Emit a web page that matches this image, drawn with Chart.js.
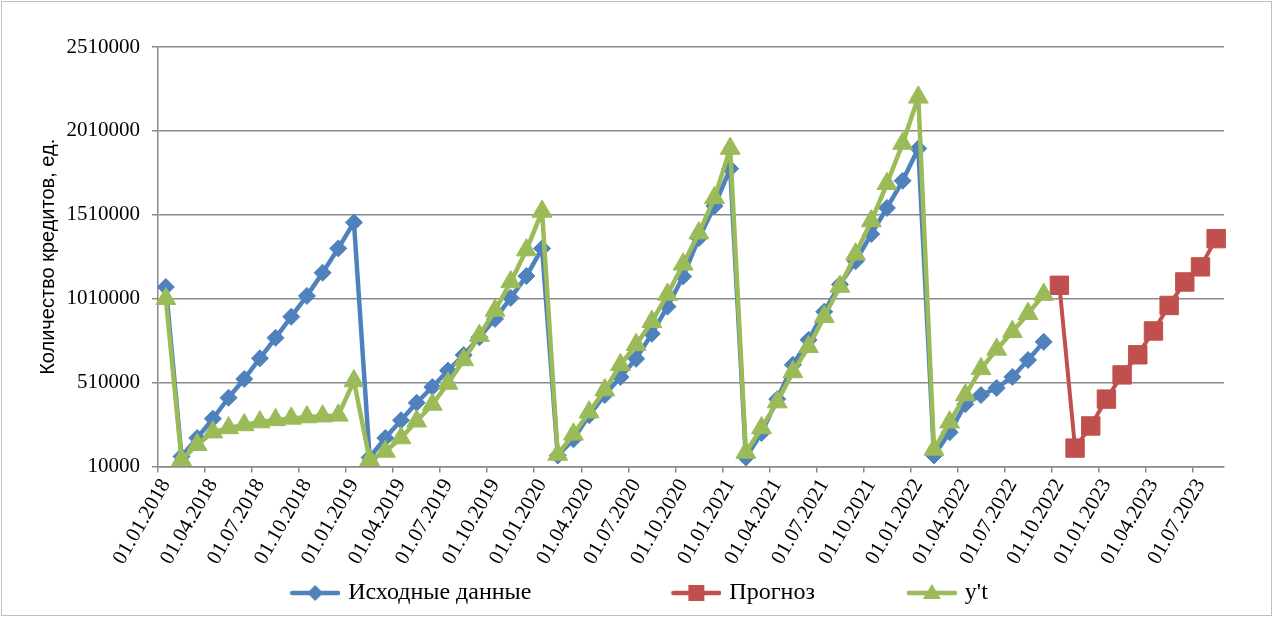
<!DOCTYPE html>
<html lang="ru">
<head>
<meta charset="utf-8">
<title>Количество кредитов</title>
<script src="https://cdn.jsdelivr.net/npm/chart.js@4.4.1/dist/chart.umd.min.js"></script>
<style>
  html, body { margin: 0; padding: 0; background: #fff; }
  #wrap { position: relative; width: 1273px; height: 617px; }
</style>
</head>
<body>
<div id="wrap"><canvas id="chart"></canvas></div>
<script>
// месяцы: 01.01.2018 ... 01.08.2023
const months = [
  '01.01.2018', '01.02.2018', '01.03.2018', '01.04.2018', '01.05.2018', '01.06.2018',
  '01.07.2018', '01.08.2018', '01.09.2018', '01.10.2018', '01.11.2018', '01.12.2018',
  '01.01.2019', '01.02.2019', '01.03.2019', '01.04.2019', '01.05.2019', '01.06.2019',
  '01.07.2019', '01.08.2019', '01.09.2019', '01.10.2019', '01.11.2019', '01.12.2019',
  '01.01.2020', '01.02.2020', '01.03.2020', '01.04.2020', '01.05.2020', '01.06.2020',
  '01.07.2020', '01.08.2020', '01.09.2020', '01.10.2020', '01.11.2020', '01.12.2020',
  '01.01.2021', '01.02.2021', '01.03.2021', '01.04.2021', '01.05.2021', '01.06.2021',
  '01.07.2021', '01.08.2021', '01.09.2021', '01.10.2021', '01.11.2021', '01.12.2021',
  '01.01.2022', '01.02.2022', '01.03.2022', '01.04.2022', '01.05.2022', '01.06.2022',
  '01.07.2022', '01.08.2022', '01.09.2022', '01.10.2022', '01.11.2022', '01.12.2022',
  '01.01.2023', '01.02.2023', '01.03.2023', '01.04.2023', '01.05.2023', '01.06.2023',
  '01.07.2023', '01.08.2023',
];

// Исходные данные (01.2018 - 09.2022)
const source = [
  1080000, 70000, 180000, 295000, 420000, 532000, 655000, 777000, 903000, 1027000, 1165000, 1310000,
  1465000, 64000, 180000, 286000, 390000, 484000, 582000, 675000, 780000, 890000, 1015000, 1145000,
  1310000, 76000, 172000, 316000, 436000, 544000, 652000, 801000, 963000, 1143000, 1371000, 1563000,
  1785000, 64000, 210000, 412000, 616000, 765000, 933000, 1095000, 1233000, 1395000, 1551000, 1713000,
  1905000, 76000, 214000, 382000, 436000, 478000, 544000, 645000, 753000,
  null, null, null, null, null, null, null, null, null, null, null,
];

// Прогноз (10.2022 - 08.2023)
const forecast = [
  null, null, null, null, null, null, null, null, null, null, null, null,
  null, null, null, null, null, null, null, null, null, null, null, null,
  null, null, null, null, null, null, null, null, null, null, null, null,
  null, null, null, null, null, null, null, null, null, null, null, null,
  null, null, null, null, null, null, null, null, null,
  1090000, 120000, 252000, 412000, 556000, 676000, 818000, 970000, 1110000, 1200000, 1368000,
];

// y't
const fitted = [
  1010000, 50000, 140000, 215000, 240000, 258000, 275000, 288000, 297000, 305000, 310000, 315000,
  520000, 50000, 100000, 180000, 280000, 380000, 505000, 645000, 790000, 940000, 1110000, 1300000,
  1530000, 82000, 202000, 334000, 466000, 616000, 736000, 873000, 1035000, 1215000, 1401000, 1611000,
  1905000, 94000, 240000, 394000, 574000, 723000, 903000, 1083000, 1275000, 1473000, 1695000, 1935000,
  2210000, 112000, 274000, 436000, 592000, 708000, 813000, 921000, 1035000,
  null, null, null, null, null, null, null, null, null, null, null,
];

const yTicks = [10000, 510000, 1010000, 1510000, 2010000, 2510000];

const BLUE = '#4f81bd';
const RED = '#c0504d';
const GREEN = '#9bbb59';
const GRID = '#898989';
const SERIF = 'Liberation Serif, "Times New Roman", serif';
const SANS = 'Liberation Sans, Arial, sans-serif';

// образец линии с маркером для легенды (картинка шире рамки на 8px, линия прижата вправо)
function makeSwatch(color, marker) {
  const c = document.createElement('canvas');
  c.width = 58;
  c.height = 24;
  const g = c.getContext('2d');
  const cx = 33, cy = 12;
  g.strokeStyle = color;
  g.lineWidth = 4.5;
  g.lineCap = 'round';
  g.beginPath();
  g.moveTo(10, cy);
  g.lineTo(56, cy);
  g.stroke();
  g.fillStyle = color;
  g.beginPath();
  if (marker === 'diamond') {
    g.moveTo(cx, cy - 8); g.lineTo(cx + 8, cy); g.lineTo(cx, cy + 8); g.lineTo(cx - 8, cy);
  } else if (marker === 'square') {
    g.rect(cx - 8, cy - 8, 16, 16);
  } else {
    g.moveTo(cx, cy - 9); g.lineTo(cx + 9, cy + 6); g.lineTo(cx - 9, cy + 6);
  }
  g.closePath();
  g.fill();
  return c;
}

const swatches = [makeSwatch(BLUE, 'diamond'), makeSwatch(RED, 'square'), makeSwatch(GREEN, 'triangle')];
const legendGap = [' '.repeat(21), ' '.repeat(13), ''];

const frame = {
  id: 'frame',
  afterLayout(chart) {
    // легенда в Excel чуть смещена вправо от центра
    chart.legend.left += 9;
    chart.legend.right += 9;
  },
  afterDraw(chart) {
    const { ctx, width, height } = chart;
    ctx.save();
    ctx.strokeStyle = '#bfbfbf';
    ctx.lineWidth = 1;
    ctx.strokeRect(1.5, 1.5, width - 3, height - 3);
    ctx.restore();
  },
};

new Chart(document.getElementById('chart'), {
  type: 'line',
  data: {
    labels: months,
    datasets: [
      {
        label: 'Исходные данные',
        data: source,
        borderColor: BLUE,
        backgroundColor: BLUE,
        borderWidth: 4.5,
        pointStyle: 'rectRot',
        pointRadius: 8.5,
        pointBorderWidth: 1,
        order: 2,
      },
      {
        label: 'Прогноз',
        data: forecast,
        borderColor: RED,
        backgroundColor: RED,
        borderWidth: 4,
        pointStyle: 'rect',
        pointRadius: 13,
        pointBorderWidth: 1,
        order: 1,
      },
      {
        label: "y't",
        data: fitted,
        borderColor: GREEN,
        backgroundColor: GREEN,
        borderWidth: 4.5,
        pointStyle: 'triangle',
        pointRadius: 11.5,
        pointBorderWidth: 1,
        order: 0,
      },
    ],
  },
  options: {
    responsive: true,
    maintainAspectRatio: false,
    animation: false,
    elements: {
      line: { tension: 0, borderJoinStyle: 'round', borderCapStyle: 'round' },
    },
    layout: { padding: { left: 32, top: 47, right: 49, bottom: 2 } },
    plugins: {
      tooltip: { enabled: false },
      legend: {
        position: 'bottom',
        labels: {
          usePointStyle: true,
          pointStyleWidth: 50,
          padding: 10,
          color: '#000',
          font: { family: SERIF, size: 24 },
          sort: (a, b) => a.datasetIndex - b.datasetIndex,
          generateLabels: chart => chart.data.datasets.map((ds, i) => ({
            text: ds.label + legendGap[i],
            pointStyle: swatches[i],
            datasetIndex: i,
            fontColor: '#000',
            hidden: false,
            lineWidth: 0,
            strokeStyle: 'rgba(0,0,0,0)',
            fillStyle: 'rgba(0,0,0,0)',
          })),
        },
      },
    },
    scales: {
      x: {
        type: 'category',
        offset: true,
        grid: {
          offset: true,
          drawOnChartArea: false,
          drawTicks: true,
          tickLength: 6,
          lineWidth: 1.5,
          color: ctx => (ctx.index % 3 === 0 ? GRID : 'rgba(0,0,0,0)'),
        },
        border: { color: GRID, width: 1.5 },
        ticks: {
          autoSkip: false,
          minRotation: 60,
          maxRotation: 60,
          padding: 2,
          color: '#000',
          font: { family: SERIF, size: 21 },
          callback: (v, i) => (i % 3 === 0 ? months[i] : ''),
        },
      },
      y: {
        min: 10000,
        max: 2510000,
        afterBuildTicks: scale => { scale.ticks = yTicks.map(v => ({ value: v })); },
        afterFit: scale => { scale.width = 126; },
        grid: { color: GRID, lineWidth: 1.5, tickLength: 6 },
        border: { color: GRID, width: 1.5 },
        ticks: {
          padding: 12,
          color: '#000',
          font: { family: SERIF, size: 21 },
          callback: v => String(v),
        },
        title: {
          display: true,
          text: 'Количество кредитов, ед.',
          color: '#000',
          font: { family: SANS, size: 20 },
          padding: { top: 4, bottom: 6 },
        },
      },
    },
  },
  plugins: [frame],
});
</script>
</body>
</html>
